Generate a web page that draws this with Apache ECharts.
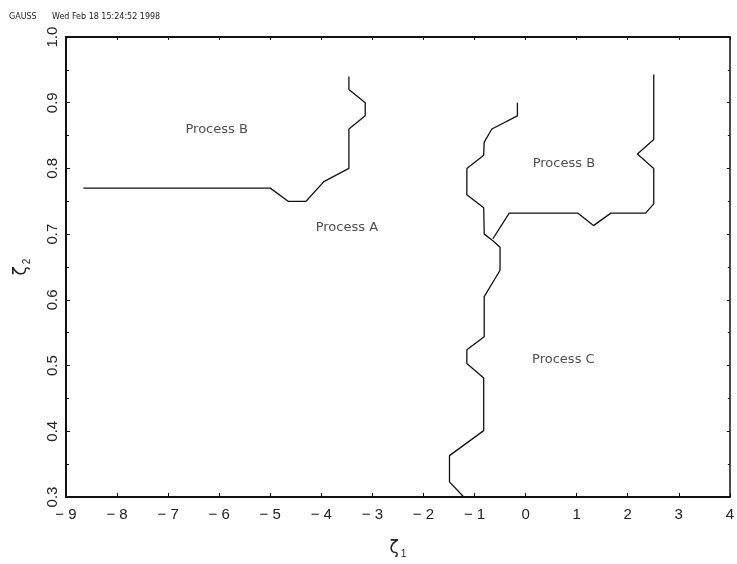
<!DOCTYPE html>
<html>
<head>
<meta charset="utf-8">
<script src="https://cdn.jsdelivr.net/npm/echarts@6/dist/echarts.min.js"></script>
<style>
  html, body { margin: 0; padding: 0; background: #fff; }
  #chart { width: 737px; height: 564px; }
</style>
</head>
<body>
<div id="chart"></div>
<script>
// boundary on the left (Process B / Process A)
var leftX = [-8.66, -5.0, -4.65, -4.30, -3.95, -3.46, -3.46, -3.14, -3.14, -3.46, -3.46];
var leftY = [0.77, 0.77, 0.75, 0.75, 0.78, 0.80, 0.86, 0.88, 0.90, 0.92, 0.94];

// boundary in the middle (Process A / Process C), top to bottom
var midX = [-0.16, -0.16, -0.66, -0.81, -0.82, -1.15, -1.15, -0.82, -0.81, -0.64, -0.50, -0.50, -0.81, -0.81, -1.15, -1.15, -0.82, -0.82, -1.49, -1.49, -1.21];
var midY = [0.90, 0.88, 0.86, 0.84, 0.82, 0.80, 0.76, 0.74, 0.70, 0.69, 0.68, 0.645, 0.605, 0.544, 0.524, 0.503, 0.481, 0.401, 0.363, 0.323, 0.30];

// branch on the right (Process B / Process C)
var rightX = [-0.64, -0.32, 1.02, 1.33, 1.67, 2.35, 2.51, 2.51, 2.19, 2.51, 2.51];
var rightY = [0.693, 0.732, 0.732, 0.713, 0.732, 0.732, 0.746, 0.80, 0.822, 0.844, 0.943];

// region names
var regionNames = ['Process B', 'Process A', 'Process B', 'Process C'];
var regionX = [-6.05, -3.5, 0.75, 0.74];
var regionY = [0.859, 0.710, 0.808, 0.509];

var xTicks = [-9, -8, -7, -6, -5, -4, -3, -2, -1, 0, 1, 2, 3, 4];
var yTicks = [0.3, 0.4, 0.5, 0.6, 0.7, 0.8, 0.9, 1.0];

function pairs(xs, ys) {
    var out = [];
    for (var i = 0; i < xs.length; i++) {
        out.push([xs[i], ys[i]]);
    }
    return out;
}

var chart = echarts.init(document.getElementById('chart'), null, { renderer: 'canvas' });

var lineStyle = { color: '#111', width: 1.3 };
var font = 'Liberation Sans';

var option = {
    backgroundColor: '#ffffff',
    animation: false,
    title: {
        text: 'GAUSS      Wed Feb 18 15:24:52 1998',
        left: 4,
        top: 8,
        textStyle: { fontSize: 8, fontWeight: 'normal', color: '#222', fontFamily: 'DejaVu Sans' }
    },
    grid: { left: 66, right: 2, top: 37, bottom: 64 },
    xAxis: [{
        type: 'value',
        position: 'bottom',
        min: xTicks[0], max: xTicks[xTicks.length - 1], interval: 1,
        splitLine: { show: false },
        axisLine: { onZero: false, lineStyle: { color: '#111', width: 2 } },
        axisTick: { inside: true, length: 4, lineStyle: { color: '#111' } },
        axisLabel: {
            margin: 10, fontSize: 15, color: '#222', fontFamily: font,
            formatter: function (v) { return String(v).replace('-', '\u2212 '); }
        },
        name: '{a|\u03b6}{b|1}',
        nameLocation: 'middle',
        nameGap: 42,
        nameTextStyle: {
            rich: {
                a: { fontSize: 17, color: '#222', fontFamily: 'DejaVu Sans' },
                b: { fontSize: 10, color: '#222', fontFamily: font, padding: [10, 0, 0, 2] }
            }
        }
    }, {
        type: 'value',
        position: 'top',
        min: xTicks[0], max: xTicks[xTicks.length - 1], interval: 1,
        splitLine: { show: false },
        axisLine: { onZero: false, lineStyle: { color: '#111', width: 2 } },
        axisTick: { inside: true, length: 3, lineStyle: { color: '#111' } },
        axisLabel: { show: false }
    }],
    yAxis: [{
        type: 'value',
        position: 'left',
        min: yTicks[0], max: yTicks[yTicks.length - 1], interval: 0.1,
        splitLine: { show: false },
        axisLine: { onZero: false, lineStyle: { color: '#111', width: 2 } },
        axisTick: { inside: true, length: 4, lineStyle: { color: '#111' } },
        minorTick: { show: true, splitNumber: 2, length: 3, lineStyle: { color: '#111' } },
        axisLabel: {
            rotate: 90, margin: 6, fontSize: 15, color: '#222', fontFamily: font,
            formatter: function (v) { return v.toFixed(1); }
        },
        name: '{a|\u03b6}{b|2}',
        nameLocation: 'middle',
        nameGap: 34,
        nameRotate: 90,
        nameTextStyle: {
            rich: {
                a: { fontSize: 17, color: '#222', fontFamily: 'DejaVu Sans' },
                b: { fontSize: 10, color: '#222', fontFamily: font, padding: [10, 0, 0, 2] }
            }
        }
    }, {
        type: 'value',
        position: 'right',
        min: yTicks[0], max: yTicks[yTicks.length - 1], interval: 0.1,
        splitLine: { show: false },
        axisLine: { onZero: false, lineStyle: { color: '#111', width: 1.5 } },
        axisTick: { inside: true, length: 3, lineStyle: { color: '#111' } },
        minorTick: { show: true, splitNumber: 2, length: 2, lineStyle: { color: '#111' } },
        axisLabel: { show: false }
    }],
    series: [{
        type: 'line',
        data: pairs(leftX, leftY),
        symbol: 'none',
        lineStyle: lineStyle
    }, {
        type: 'line',
        data: pairs(midX, midY),
        symbol: 'none',
        lineStyle: lineStyle
    }, {
        type: 'line',
        data: pairs(rightX, rightY),
        symbol: 'none',
        lineStyle: lineStyle
    }, {
        type: 'scatter',
        symbolSize: 0,
        data: pairs(regionX, regionY),
        label: {
            show: true,
            position: 'inside',
            fontSize: 13,
            color: '#222',
            fontFamily: 'DejaVu Sans',
            formatter: function (p) { return regionNames[p.dataIndex]; }
        }
    }]
};

chart.setOption(option);
</script>
</body>
</html>
